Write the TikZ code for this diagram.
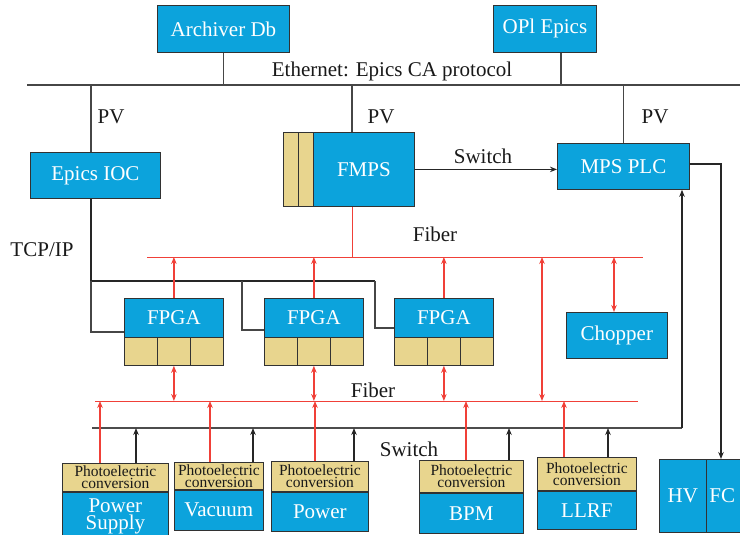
\documentclass[tikz,border=0pt]{standalone}
\usepackage{fontspec}
\setmainfont{Liberation Serif}
\usetikzlibrary{arrows.meta}
\definecolor{skyb}{RGB}{12,163,220}
\definecolor{tanc}{RGB}{232,213,142}
\definecolor{redl}{RGB}{240,64,56}
\definecolor{boxline}{RGB}{50,50,50}
\definecolor{wirec}{RGB}{70,70,70}

% tan converter cap with a blue device box hanging below it
\newcommand\pebox[7]{%
  \node[tanbox, minimum width=#4pt, minimum height=#5pt] (#1t) at (#2,#3) {Photoelectric\\conversion};
  \node[bluebox, minimum width=#4pt, minimum height=#6pt, anchor=north] (#1) at (#1t.south) {#7};}

\begin{document}
\begin{tikzpicture}[x=1pt,y=-1pt,
  >={Stealth[length=7pt,width=5.5pt]},
  bluebox/.style={draw=boxline, fill=skyb, text=white, line width=0.8pt, inner sep=0pt,
    anchor=north west, font=\fontsize{21}{18}\selectfont, align=center},
  tanbox/.style={draw=boxline, fill=tanc, line width=0.8pt, inner sep=0pt,
    anchor=north west, font=\fontsize{15.5}{12}\selectfont, align=center, text=black!90},
  lbl/.style={font=\fontsize{21}{22}\selectfont, text=black!90, inner sep=0pt},
  eth/.style={draw=wirec, line width=1.1pt},
  blkbus/.style={draw=black!85, line width=1.8pt},
  blk/.style={draw=black!85, line width=1.5pt},
  redbus/.style={draw=redl, line width=0.9pt},
  redarr/.style={draw=redl, line width=1.6pt},
]
\fill[white] (0,0) rectangle (740,535);
\useasboundingbox (0,0) rectangle (740,535);

% ---- Ethernet level ----
\node[bluebox, minimum width=132pt, minimum height=47pt] (arch) at (157,5) {Archiver Db};
\node[bluebox, minimum width=103pt, minimum height=47pt] (opi) at (493,5) {OPl Epics};
\coordinate (ethL) at (27,85);
\coordinate (ethR) at (740,85);
\draw[eth] (ethL) -- (ethR);
\draw[eth] (arch.south) -- (arch.south |- ethL);
\draw[eth] (561,0 |- opi.south) -- (561,0 |- ethL);
\node[lbl] at (392,71) {Ethernet: Epics CA protocol};

% ---- controllers ----
\node[bluebox, minimum width=130pt, minimum height=46pt] (ioc) at (30,152) {Epics IOC};
\node[tanbox, minimum width=15pt, minimum height=74pt] (fm1) at (283,132) {};
\node[tanbox, minimum width=15pt, minimum height=74pt] (fm2) at (298,132) {};
\node[bluebox, minimum width=101pt, minimum height=74pt] (fmps) at (313,132) {FMPS};
\node[bluebox, minimum width=132pt, minimum height=46pt] (mps) at (557,143) {MPS PLC};

\draw[eth] (91,0 |- ethL) -- (91,0 |- ioc.north);
\draw[eth] (352,0 |- ethL) -- (352,0 |- fmps.north);
\draw[eth] (mps.north |- ethL) -- (mps.north);
\node[lbl] at (111,117) {PV};
\node[lbl] at (381,117) {PV};
\node[lbl] at (655,117) {PV};

\draw[blk, ->] (fmps.east) -- (fmps.east -| mps.west);
\node[lbl] at (483,156) {Switch};

% ---- FPGA boards ----
\foreach \i/\x in {1/124, 2/264, 3/394} {
  \node[bluebox, minimum width=99pt, minimum height=39pt] (fpga\i) at (\x,298) {FPGA};
  \foreach \j in {1,2,3}
    \node[tanbox, minimum width=33pt, minimum height=28pt] (cell\i-\j) at ({\x+33*(\j-1)},337) {};
}
\node[bluebox, minimum width=101pt, minimum height=46pt] (chop) at (566,312) {Chopper};

% TCP/IP bus from the IOC to the FPGAs
\coordinate (iocb) at (91,281);
\coordinate (iocm) at (242,281);
\coordinate (iocr) at (375,281);
\draw[blkbus] (ioc.south -| iocb) -- (iocb) -- (iocr);
\draw[eth] (iocb) |- (fpga1.west |- 0,332);
\draw[eth] (iocm) |- (fpga2.west |- 0,330);
\draw[eth] (iocr) |- (fpga3.west |- 0,328);
\node[lbl] at (42,250) {TCP/IP};

% upper fiber
\coordinate (rbL) at (147,257);
\coordinate (rbR) at (643,257);
\draw[redbus] (rbL) -- (rbR);
\draw[redbus] (352,0 |- fmps.south) -- (352,0 |- rbL);
\node[lbl] at (435,234) {Fiber};
\foreach \i in {1,2,3}
  \draw[redarr, ->] (fpga\i.north) -- (fpga\i.north |- rbL);

% lower fiber
\coordinate (rb2L) at (95,401);
\coordinate (rb2R) at (638,401);
\draw[redbus] (rb2L) -- (rb2R);
\node[lbl] at (373,390) {Fiber};
\foreach \i in {1,2,3}
  \draw[redarr, <->] (cell\i-2.south) -- (cell\i-2.south |- rb2L);
\draw[redarr, <->] (542,0 |- rbL) -- (542,0 |- rb2L);
\draw[redarr, <->] (614,0 |- rbL) -- (614,0 |- chop.north);

% ---- front-end devices ----
\pebox{ps}{62}{463}{106}{28}{48}{Power\\[-1pt]Supply}
\pebox{vac}{174}{462}{89}{27}{40}{Vacuum}
\pebox{pow}{271}{461}{97}{30}{39}{Power}
\pebox{bpm}{419}{460}{104}{32}{40}{BPM}
\pebox{llrf}{537}{457}{99}{33}{38}{LLRF}
\node[bluebox, minimum width=47pt, minimum height=73pt] (hv) at (659,459) {HV};
\node[bluebox, minimum width=50pt, minimum height=73pt, text width=44pt, align=left, inner xsep=3pt] (fc) at (706,459) {FC};

% switch bus
\coordinate (swL) at (92,428);
\coordinate (swR) at (682,428);
\draw[blk, draw=black!70, line width=1.8pt] (swL) -- (swR);
\draw[blk, ->] (swR) -- (mps.south -| swR);
\node[lbl] at (409,449) {Switch};

\foreach \n/\r/\b in {ps/100/136, vac/210/253, pow/315/354, bpm/466/509, llrf/564/608} {
  \draw[redarr, ->] (\r,0 |- \n t.north) -- (\r,0 |- rb2L);
  \draw[blk, ->] (\b,0 |- \n t.north) -- (\b,0 |- swL);
}

% MPS output to HV / FC
\coordinate (turn) at (721,164);
\draw[blk, ->] (mps.east |- turn) -- (turn) -- (turn |- fc.north);
\end{tikzpicture}
\end{document}
